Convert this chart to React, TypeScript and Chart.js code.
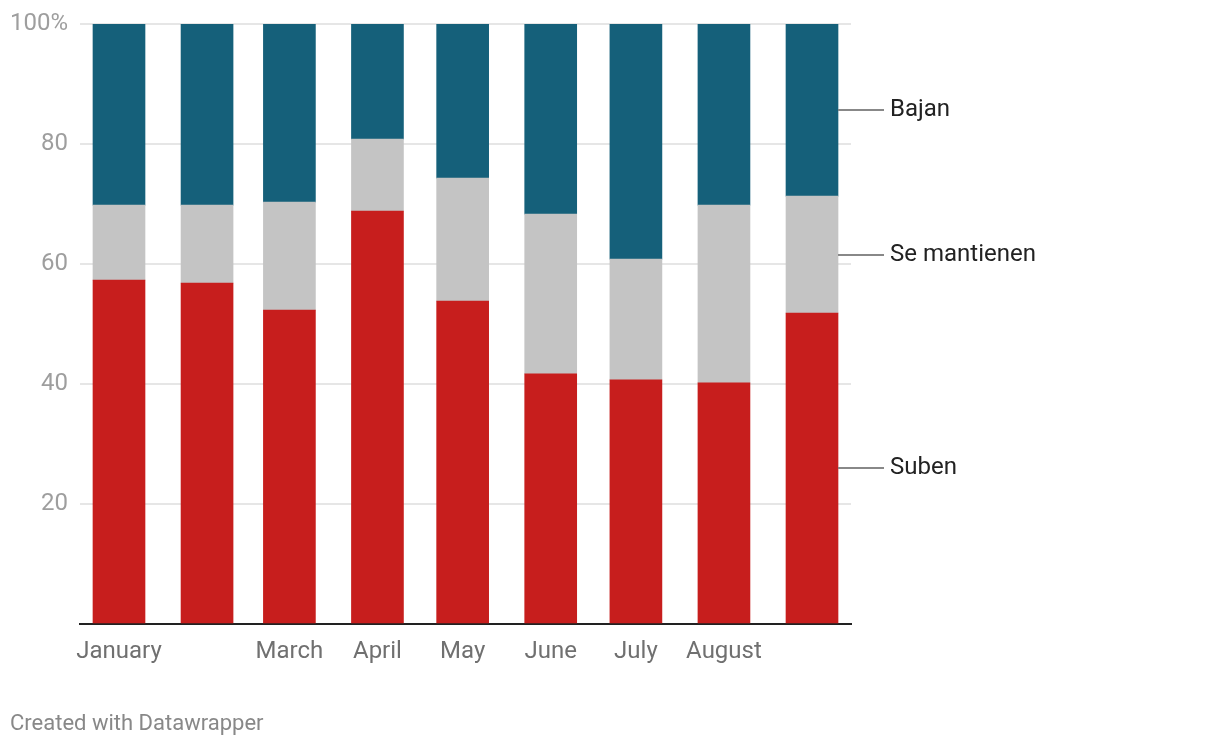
import React, { useEffect, useRef } from "react";
import { Chart, registerables } from "chart.js";

Chart.register(...registerables);

const dates = [
  "2024-01-01",
  "2024-02-01",
  "2024-03-01",
  "2024-04-01",
  "2024-05-01",
  "2024-06-01",
  "2024-07-01",
  "2024-08-01",
  "2024-09-01",
];
const tickLabels = ["January", "", "March", "April", "May", "June", "July", "August", ""];
const seriesNames = ["Suben", "Se mantienen", "Bajan"];
const suben = [57.3, 56.8, 52.3, 68.8, 53.8, 41.7, 40.7, 40.2, 51.8];
const seMantienen = [12.5, 13.0, 18.0, 12.0, 20.5, 26.6, 20.1, 29.6, 19.5];
const bajan = [30.2, 30.2, 29.7, 19.2, 25.7, 31.7, 39.2, 30.2, 28.7];
const yTicks = [0, 20, 40, 60, 80, 100];
const colors = ["#c71e1d", "#c4c4c4", "#15607a"];
const footerText = "Created with Datawrapper";

const FONT = "Roboto, 'Noto Sans', sans-serif";

const dayOffsets = dates.map(
  (d) => (Date.parse(d) - Date.parse(dates[0])) / 86400000
);

const labelPlugin = {
  id: "dwLabels",
  afterDraw(chart: any) {
    const ctx = chart.ctx;
    ctx.save();
    chart.data.datasets.forEach((ds: any, i: number) => {
      const meta = chart.getDatasetMeta(i);
      const el = meta.data[meta.data.length - 1];
      if (!el) return;
      const props = el.getProps(["x", "y", "base", "width"], true);
      const mid = (props.y + props.base) / 2;
      const x0 = props.x + props.width / 2;
      ctx.strokeStyle = "#888888";
      ctx.lineWidth = 2;
      ctx.beginPath();
      ctx.moveTo(x0, Math.round(mid));
      ctx.lineTo(x0 + 46, Math.round(mid));
      ctx.stroke();
      ctx.fillStyle = "#222222";
      ctx.font = `24px ${FONT}`;
      ctx.textAlign = "left";
      ctx.textBaseline = "middle";
      ctx.fillText(ds.label, x0 + 52, mid);
    });
    ctx.fillStyle = "#888888";
    ctx.font = `22px ${FONT}`;
    ctx.textAlign = "left";
    ctx.textBaseline = "alphabetic";
    ctx.fillText(footerText, 10, 730);
    ctx.restore();
  },
};

export default function App() {
  const ref = useRef<HTMLCanvasElement | null>(null);
  useEffect(() => {
    if (!ref.current) return;
    const series = [suben, seMantienen, bajan];
    const chart = new Chart(ref.current, {
      type: "bar",
      data: {
        datasets: series.map((vals, i) => ({
          label: seriesNames[i],
          data: vals.map((v, j) => ({ x: dayOffsets[j], y: v })),
          backgroundColor: colors[i],
          borderWidth: 0,
          barThickness: 52,
        })),
      },
      options: {
        animation: false,
        responsive: false,
        devicePixelRatio: 1,
        layout: { padding: { left: 0, right: 369, top: 24, bottom: 62 } },
        plugins: {
          legend: { display: false },
          tooltip: { enabled: false },
        },
        scales: {
          x: {
            type: "linear",
            stacked: true,
            offset: false,
            min: -13.73,
            max: 257.73,
            afterBuildTicks: (scale: any) => {
              scale.ticks = dayOffsets.map((v) => ({ value: v }));
            },
            afterFit: (scale: any) => {
              scale.height = 60;
              scale.paddingLeft = 0;
              scale.paddingRight = 0;
            },
            grid: { display: false, drawTicks: false, offset: false },
            border: { display: true, color: "#222222", width: 2 },
            ticks: {
              autoSkip: false,
              maxRotation: 0,
              padding: 14,
              color: "#707070",
              font: { family: FONT, size: 24 },
              callback: (_v: any, i: number) => tickLabels[i],
            },
          },
          y: {
            stacked: true,
            min: 0,
            max: 100,
            afterBuildTicks: (scale: any) => {
              scale.ticks = yTicks.map((v) => ({ value: v }));
            },
            afterFit: (scale: any) => {
              scale.width = 80;
              scale.paddingTop = 0;
              scale.paddingBottom = 0;
            },
            grid: {
              drawTicks: false,
              lineWidth: 2,
              color: (c: any) => (c.tick && c.tick.value === 0 ? "rgba(0,0,0,0)" : "#e6e6e6"),
            },
            border: { display: false },
            ticks: {
              padding: 12,
              color: "#9e9e9e",
              font: { family: FONT, size: 24 },
              callback: (v: any) => (v === 100 ? "100%" : v === 0 ? "" : String(v)),
            },
          },
        },
      },
      plugins: [labelPlugin],
    } as any);
    return () => chart.destroy();
  }, []);
  return (
    <div style={{ position: "fixed", left: 0, top: 0, width: 1220, height: 746, background: "#fff" }}>
      <canvas ref={ref} width={1220} height={746} style={{ width: 1220, height: 746, display: "block" }} />
    </div>
  );
}
